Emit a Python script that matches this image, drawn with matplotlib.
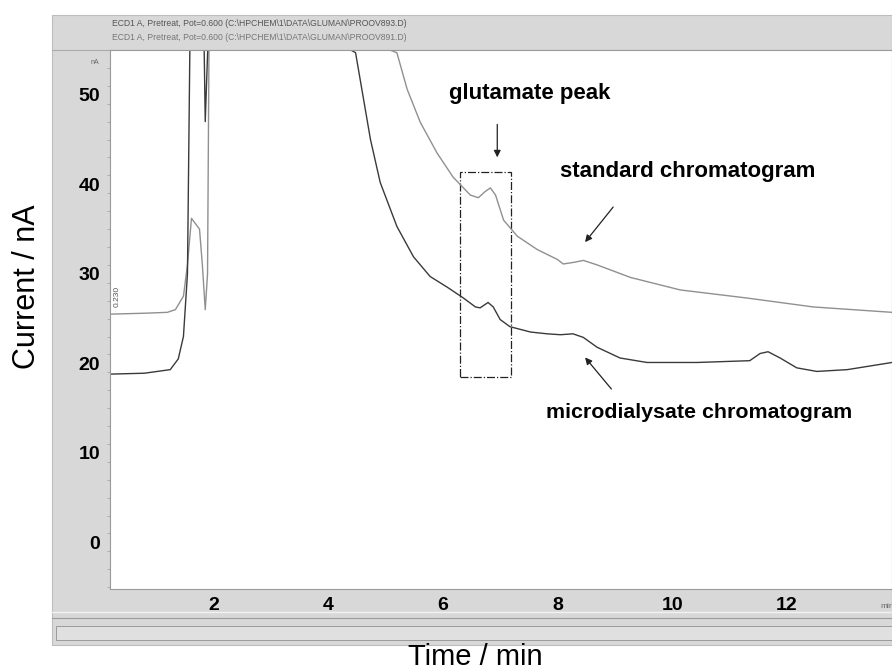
import numpy as np
import matplotlib.pyplot as plt
from matplotlib.patches import Rectangle

plt.rcParams['font.family'] = ['Liberation Sans', 'DejaVu Sans']

# Standard chromatogram (values above 55 nA are off-scale)
t_std = [0.2, 0.8, 1.2, 1.34, 1.48, 1.55, 1.62, 1.69, 1.76, 1.81, 1.86, 1.90, 1.93,
         3.0, 5.2, 5.38, 5.61, 5.9, 6.18, 6.48, 6.62, 6.74, 6.83, 6.92, 7.06, 7.3,
         7.65, 8.0, 8.1, 8.3, 8.45, 8.69, 9.27, 10.14, 11.3, 12.46, 13.83]
i_std = [25.5, 25.6, 25.7, 26.0, 27.5, 31.0, 36.2, 35.6, 35.0, 31.0, 26.0, 30.0, 60.0,
         60.0, 54.7, 50.6, 46.9, 43.5, 40.8, 38.8, 38.5, 39.2, 39.6, 38.8, 36.0, 34.2,
         32.7, 31.6, 31.1, 31.3, 31.5, 31.0, 29.6, 28.2, 27.3, 26.3, 25.7]

# Microdialysate chromatogram
t_mic = [0.2, 0.8, 1.25, 1.39, 1.48, 1.55, 1.60, 1.83, 1.86, 1.93, 3.0,
         4.48, 4.74, 4.91, 5.2, 5.49, 5.78, 6.08, 6.36, 6.57, 6.65, 6.79, 6.88, 7.0,
         7.17, 7.53, 7.82, 8.05, 8.27, 8.45, 8.69, 9.09, 9.56, 10.43, 11.35, 11.53,
         11.67, 11.88, 12.17, 12.52, 13.05, 13.83]
i_mic = [18.8, 18.9, 19.3, 20.5, 23.0, 30.0, 60.0, 60.0, 47.0, 60.0, 60.0,
         54.7, 45.0, 40.2, 35.3, 31.9, 29.7, 28.5, 27.3, 26.3, 26.2, 26.8, 26.3, 24.9,
         24.1, 23.5, 23.3, 23.2, 23.3, 22.9, 21.8, 20.6, 20.1, 20.1, 20.3, 21.1,
         21.3, 20.6, 19.5, 19.1, 19.3, 20.1]

y_ticks = [0, 10, 20, 30, 40, 50]
x_ticks = [2, 4, 6, 8, 10, 12]

header = ['ECD1 A, Pretreat, Pot=0.600 (C:\\HPCHEM\\1\\DATA\\GLUMAN\\PROOV893.D)',
          'ECD1 A, Pretreat, Pot=0.600 (C:\\HPCHEM\\1\\DATA\\GLUMAN\\PROOV891.D)']

W, H = 892, 670
fig = plt.figure(figsize=(W / 100, H / 100), dpi=100)

def fx(px):
    return px / W

def fy(py):
    return 1 - py / H

# gray instrument panel
fig.patches.append(Rectangle((fx(52), fy(645)), fx(892 - 52), (645 - 15) / H,
                             transform=fig.transFigure, facecolor='#d8d8d8',
                             edgecolor='#bdbdbd', lw=0.8, zorder=0))
# scrollbar
fig.patches.append(Rectangle((fx(56), fy(640)), fx(892 - 56), (640 - 626) / H,
                             transform=fig.transFigure, facecolor='#e0e0e0',
                             edgecolor='#9a9a9a', lw=0.7, zorder=1))
fig.add_artist(plt.Line2D([fx(52), 1], [fy(618), fy(618)], color='#9a9a9a', lw=0.8))
fig.add_artist(plt.Line2D([fx(52), 1], [fy(612), fy(612)], color='#f2f2f2', lw=1.0))
fig.add_artist(plt.Line2D([fx(52), 1], [fy(50), fy(50)], color='#aaaaaa', lw=0.8))

ax = fig.add_axes([fx(110), fy(589), fx(892 - 110), (589 - 50) / H])
ax.set_zorder(5)
ax.set_facecolor('white')

ax.plot(t_std, i_std, color='#909090', lw=1.0)
ax.plot(t_mic, i_mic, color='#3a3a3a', lw=1.0)

ax.set_xlim(0.2, 13.83)
ax.set_ylim(-5.2, 55)

ax.set_xticks(x_ticks)
ax.set_yticks(y_ticks)
ax.set_xticklabels([str(v) for v in x_ticks], fontweight='bold', fontsize=14)
ax.set_yticklabels([str(v) for v in y_ticks], fontweight='bold', fontsize=14)
ax.tick_params(axis='x', length=0, pad=6)
ax.tick_params(axis='y', length=0, pad=7)
ax.set_yticks(np.arange(-5, 55, 2), minor=True)
ax.tick_params(axis='y', which='minor', length=2, color='#999999', width=0.5)
for s in ax.spines.values():
    s.set_color('#9a9a9a')
    s.set_linewidth(0.8)

# dashed box round the glutamate peak
ax.add_patch(Rectangle((6.3, 18.5), 0.89, 41.4 - 18.5, fill=False,
                       ls='-.', lw=0.9, color='#222222'))

arrow = dict(arrowstyle='-|>', color='#222222', lw=0.9, mutation_scale=10)
lab = dict(fontweight='bold', fontsize=16, ha='left', va='baseline')
ax.text(6.1, 49.5, 'glutamate peak', **lab)
ax.annotate('', xy=(6.95, 42.7), xytext=(6.95, 47.0), arrowprops=arrow)
ax.text(8.05, 40.8, 'standard chromatogram', **lab)
ax.annotate('', xy=(8.45, 33.3), xytext=(9.0, 37.7), arrowprops=arrow)
lab['fontsize'] = 15.4
ax.text(7.8, 13.95, 'microdialysate chromatogram', **lab)
ax.annotate('', xy=(8.45, 20.9), xytext=(8.97, 16.9), arrowprops=arrow)

# small instrument texts
ax.text(0.33, 27.5, '0.230', rotation=90, fontsize=6, color='#555555',
        ha='center', va='center')
fig.text(fx(95), fy(62), 'nA', fontsize=5, color='#666666', ha='center', va='center')
fig.text(fx(880), fy(606), 'min', fontsize=6, color='#666666', ha='left', va='center')
fig.text(fx(112), fy(23), header[0], fontsize=6.2, color='#555555', va='center')
fig.text(fx(112), fy(37), header[1], fontsize=6.2, color='#777777', va='center')

fig.text(fx(27), fy(287), 'Current / nA', rotation=90, fontsize=22,
         ha='center', va='center')
fig.text(fx(475), fy(657), 'Time / min', fontsize=21, ha='center', va='center')

fig.savefig('out.png', dpi=100)
